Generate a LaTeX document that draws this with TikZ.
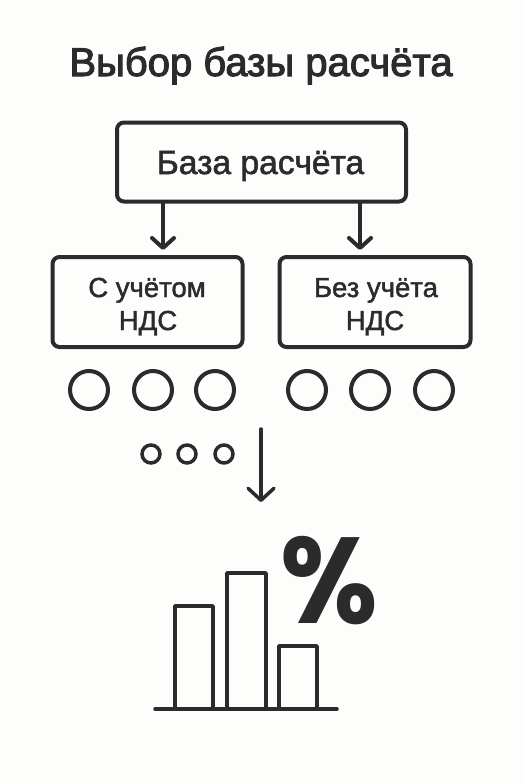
\documentclass[tikz,border=0pt]{standalone}
\usepackage{fontspec}
\setmainfont{Liberation Sans}
\newfontfamily\medfont[FakeBold=1.6]{Liberation Sans}
\newfontfamily\titlefont[FakeBold=2.6]{Liberation Sans}
\newfontfamily\pctfont{Poppins}
\usetikzlibrary{arrows.meta}
\definecolor{ink}{HTML}{2B2B2B}
\definecolor{paper}{HTML}{FDFDFB}
\tikzset{
  x=1pt,y=-1pt,
  box/.style={draw=ink,line width=4pt,rounded corners=7pt,fill=none,inner sep=0pt,outer sep=0pt,text=ink,align=center},
  bigdot/.style={draw=ink,line width=4pt,circle,minimum size=38pt,inner sep=0pt,outer sep=0pt},
  smalldot/.style={draw=ink,line width=3.5pt,circle,minimum size=18pt,inner sep=0pt,outer sep=0pt},
  bar/.style={draw=ink,line width=3.5pt,line join=round,inner sep=0pt,outer sep=0pt,anchor=north west},
  conn/.style={draw=ink,line width=4pt,-{Straight Barb[length=10pt,width=22pt,line width=4pt,round]}},
  thin conn/.style={draw=ink,line width=3.5pt,line cap=round,-{Straight Barb[length=12pt,width=26pt,line width=3.5pt,round]}},
  label/.style={text=ink,anchor=base,inner sep=0pt},
}
\begin{document}
\begin{tikzpicture}
\path[use as bounding box,fill=paper] (0,0) rectangle (523,784);
\node[label,font=\titlefont\fontsize{40}{44}\selectfont] (title) at (261,76) {Выбор базы расчёта};
\node[box,minimum width=289pt,minimum height=79pt] (top) at (261.5,162) {};
\node[label,font=\medfont\fontsize{33.6}{38}\selectfont] (toplabel) at (260.5,174) {База расчёта};
\node[box,minimum width=190pt,minimum height=90pt] (left) at (147.5,302) {};
\node[box,minimum width=191pt,minimum height=90pt] (right) at (375,302) {};
\node[label,font=\medfont\fontsize{27.5}{30}\selectfont] (l1) at (147,297) {С учётом};
\node[label,font=\medfont\fontsize{27.5}{30}\selectfont] (l2) at (148,330) {НДС};
\node[label,font=\medfont\fontsize{27.5}{30}\selectfont] (r1) at (376,297) {Без учёта};
\node[label,font=\medfont\fontsize{27.5}{30}\selectfont] (r2) at (375,330) {НДС};
\coordinate (tipl) at (163,250);
\coordinate (tipr) at (360,250);
\draw[conn] (top.south -| tipl) -- (tipl);
\draw[conn] (top.south -| tipr) -- (tipr);
\foreach \n/\cx in {a/89,b/153,c/215,d/307,e/370,f/434}
  \node[bigdot] (\n) at (\cx,390) {};
\foreach \n/\cx in {g/151,h/187,i/224}
  \node[smalldot] (\n) at (\cx,454) {};
\coordinate (vs) at (261,429);
\coordinate (ve) at (261,502);
\draw[thin conn] (vs) -- (ve);
\node[bar,minimum width=38pt,minimum height=103pt] (b1) at (175,606) {};
\node[bar,minimum width=39pt,minimum height=136pt] (b2) at (227,573) {};
\node[bar,minimum width=38pt,minimum height=63pt] (b3) at (279,646) {};
\coordinate (bl) at (155,709);
\coordinate (br) at (337,709);
\draw[draw=ink,line width=3.5pt,line cap=round] (bl) -- (br);
\node[label,xscale=0.92,font=\pctfont\bfseries\fontsize{122}{126}\selectfont] (pct) at (329,623) {\%};
\end{tikzpicture}
\end{document}
